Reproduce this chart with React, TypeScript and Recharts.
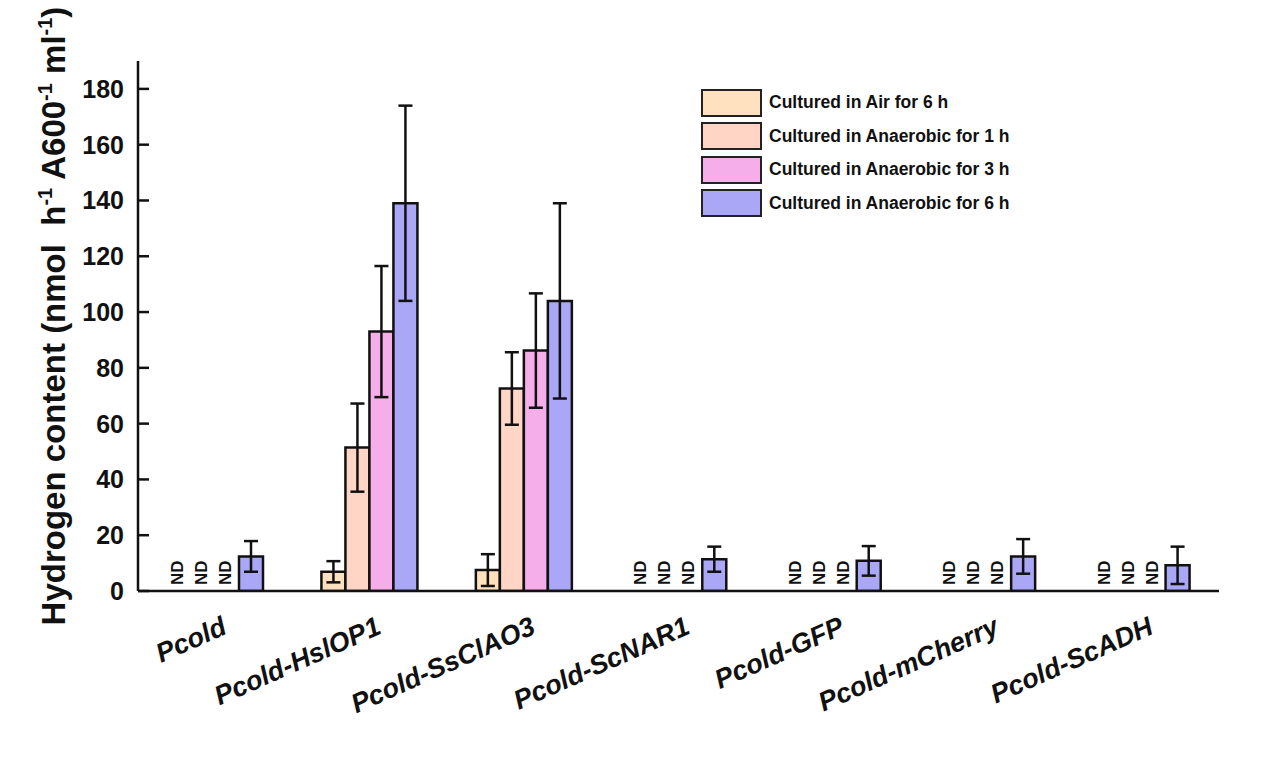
import { BarChart, Bar, XAxis, YAxis, ErrorBar, LabelList } from 'recharts';

const categories = [
  'Pcold',
  'Pcold-HslOP1',
  'Pcold-SsClAO3',
  'Pcold-ScNAR1',
  'Pcold-GFP',
  'Pcold-mCherry',
  'Pcold-ScADH',
];

const seriesNames = [
  'Cultured in Air for 6 h',
  'Cultured in Anaerobic for 1 h',
  'Cultured in Anaerobic for 3 h',
  'Cultured in Anaerobic for 6 h',
];
const seriesKeys = ['air6h', 'an1h', 'an3h', 'an6h'];
const seriesColors = ['#FFE1BF', '#FFD5C6', '#F6AEEA', '#A9A7F6'];

// null = ND (not detected)
const air6h = [null, 6.9, 7.5, null, null, null, null];
const air6hErr = [null, 3.8, 5.7, null, null, null, null];
const an1h = [null, 51.4, 72.6, null, null, null, null];
const an1hErr = [null, 15.8, 13, null, null, null, null];
const an3h = [null, 93, 86.2, null, null, null, null];
const an3hErr = [null, 23.5, 20.5, null, null, null, null];
const an6h = [12.4, 139, 104, 11.4, 10.8, 12.4, 9.2];
const an6hErr = [5.5, 35, 35, 4.5, 5.3, 6.2, 6.7];

const yTicks = [0, 20, 40, 60, 80, 100, 120, 140, 160, 180];

const values = [air6h, an1h, an3h, an6h];
const errors = [air6hErr, an1hErr, an3hErr, an6hErr];

const data = categories.map((name, i) => {
  const row: Record<string, any> = { name };
  seriesKeys.forEach((k, s) => {
    row[k] = values[s][i] ?? 0;
    row[k + 'Err'] = errors[s][i];
  });
  return row;
});

const FONT = '"Liberation Sans", Arial, Helvetica, sans-serif';

const YTick = (props: any) => {
  const { x, y, payload } = props;
  return (
    <g>
      <line x1={x + 14} x2={x + 25} y1={y} y2={y} stroke="#111" strokeWidth={2.5} />
      <text x={x} y={y} dy="0.36em" textAnchor="end" fontSize={25} fontWeight="bold" fontFamily={FONT} fill="#111">
        {payload.value}
      </text>
    </g>
  );
};

const XTick = (props: any) => {
  const { x, y, payload } = props;
  return (
    <text
      transform={`translate(${x + 13},${y + 42}) rotate(-24)`}
      textAnchor="end"
      fontSize={27}
      fontWeight="bold"
      fontStyle="italic"
      fontFamily={FONT}
      fill="#111"
    >
      {payload.value}
    </text>
  );
};

const renderYTitle = () => (
  <text
    transform="translate(65,316) rotate(-90)"
    textAnchor="middle"
    fontSize={33}
    fontWeight="bold"
    fontFamily={FONT}
    fill="#111"
  >
    Hydrogen content (nmol{'\u00a0\u00a0'}h
    <tspan dy={-13} fontSize={20}>-1</tspan>
    <tspan dy={13}> A600</tspan>
    <tspan dy={-13} fontSize={20}>-1</tspan>
    <tspan dy={13}> ml</tspan>
    <tspan dy={-13} fontSize={20}>-1</tspan>
    <tspan dy={13}>)</tspan>
  </text>
);

// the 6 h bar exists in every group, so it carries the "ND" marks for
// the empty slots to its left (bars sit side by side, barGap = 0)
const renderND = (props: any) => {
  const { x, y, width, height, index } = props;
  const base = y + height;
  return (
    <g>
      {values.slice(0, 3).map((series, s) => {
        if (series[index] != null) return null;
        const cx = x - (3 - s) * width + width / 2 - 2;
        return (
          <text
            key={s}
            transform={`translate(${cx},${base - 6}) rotate(-90)`}
            dy="0.36em"
            textAnchor="start"
            fontSize={17}
            fontWeight="bold"
            fontFamily={FONT}
            fill="#111"
          >
            ND
          </text>
        );
      })}
    </g>
  );
};

function LegendBox() {
  return (
    <div style={{ position: 'absolute', left: 701, top: 86, fontFamily: FONT }}>
      {seriesNames.map((n, i) => (
        <div key={n} style={{ display: 'flex', alignItems: 'center', height: 33.5 }}>
          <div
            style={{
              width: 57,
              height: 24,
              background: seriesColors[i],
              border: '2.5px solid #222',
              marginRight: 7,
            }}
          />
          <span style={{ fontSize: 17.5, fontWeight: 'bold', color: '#111' }}>{n}</span>
        </div>
      ))}
    </div>
  );
}

export default function App() {
  return (
    <div style={{ position: 'absolute', left: 0, top: 0, width: 1267, height: 762, background: '#fff' }}>
      <BarChart
        width={1267}
        height={762}
        data={data}
        margin={{ top: 61, right: 48, left: 0, bottom: 0 }}
        barGap={0}
        barSize={24}
      >
        <XAxis
          dataKey="name"
          height={171}
          interval={0}
          tickLine={false}
          tickSize={0}
          tickMargin={0}
          axisLine={{ stroke: '#111', strokeWidth: 2.5 }}
          tick={<XTick />}
        />
        <YAxis
          type="number"
          width={138}
          domain={[0, 190]}
          ticks={yTicks}
          allowDataOverflow
          tickLine={false}
          tickSize={0}
          tickMargin={14}
          axisLine={{ stroke: '#111', strokeWidth: 2.5 }}
          tick={<YTick />}
          label={renderYTitle}
        />
        {seriesKeys.map((k, s) => (
          <Bar
            key={k}
            dataKey={k}
            name={seriesNames[s]}
            fill={seriesColors[s]}
            stroke="#111"
            strokeWidth={2.5}
            isAnimationActive={false}
          >
            <ErrorBar dataKey={k + 'Err'} width={7} stroke="#111" strokeWidth={2.5} />
            {s === 3 && <LabelList content={renderND} />}
          </Bar>
        ))}
      </BarChart>
      <LegendBox />
    </div>
  );
}
